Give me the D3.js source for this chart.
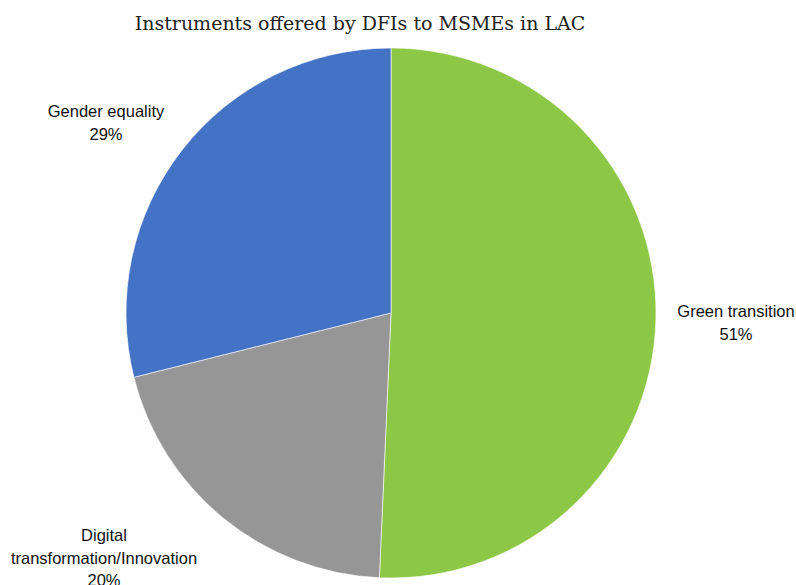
<!DOCTYPE html>
<html><head><meta charset="utf-8">
<script src="https://cdn.jsdelivr.net/npm/d3@7"></script>
<style>body{margin:0;background:#fff}svg{display:block}</style>
</head><body>
<svg id="c" width="796" height="585"></svg>
<script>
const categories = ["Green transition", "Digital transformation/Innovation", "Gender equality"];
const values = [50.7, 20.4, 28.9];
const labelLines = [["Green transition"], ["Digital", "transformation/Innovation"], ["Gender equality"]];
const colors = ["#8DC746", "#969696", "#4472C4"];
const subtitle = "Instruments offered by DFIs to MSMEs in LAC";

const svg = d3.select("#c");
const cx = 391, cy = 313, r = 265;

svg.append("text").attr("x", 360).attr("y", 30).attr("text-anchor", "middle")
  .attr("font-family", "DejaVu Serif").attr("font-size", 19).attr("fill", "#222").text(subtitle);

const data = categories.map((c, i) => ({cat: c, v: values[i], lines: labelLines[i], color: colors[i]}));
const pie = d3.pie().value(d => d.v).sort(null);
const arcs = pie(data);
const arc = d3.arc().innerRadius(0).outerRadius(r);
const g = svg.append("g").attr("transform", `translate(${cx},${cy})`);
g.selectAll("path").data(arcs).join("path")
  .attr("d", arc).attr("fill", d => d.data.color).attr("stroke", "#fff").attr("stroke-width", 0.6);

const labelPos = [[736, 317], [104, 541], [106, 117]];
const fmt = d3.format(".0f");
arcs.forEach((a, i) => {
  const lines = a.data.lines.concat([fmt(a.data.v) + "%"]);
  const t = svg.append("text").attr("text-anchor", "middle")
    .attr("font-family", "Liberation Sans, Arial, sans-serif").attr("font-size", 16.5).attr("fill", "#111");
  lines.forEach((l, j) => {
    t.append("tspan").attr("x", labelPos[i][0]).attr("y", labelPos[i][1] + j * 22.5).text(l);
  });
});
</script>
</body></html>
